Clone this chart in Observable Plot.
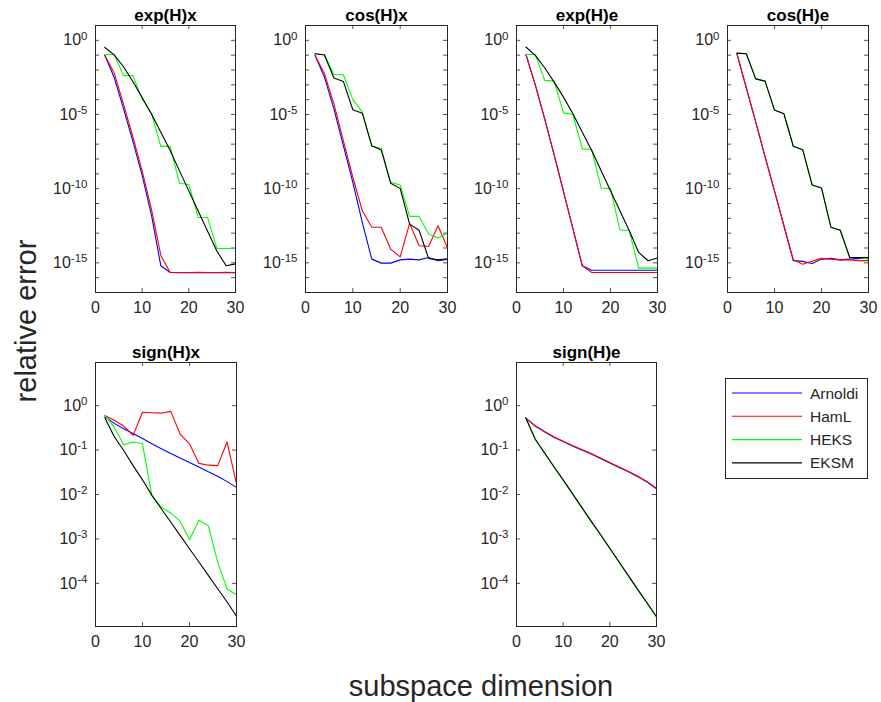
<!DOCTYPE html>
<html><head><meta charset="utf-8">
<script src="https://cdn.jsdelivr.net/npm/d3@7"></script>
<script src="https://cdn.jsdelivr.net/npm/@observablehq/plot@0.6"></script>
<style>
body{margin:0;background:#fff;}
#fig{position:relative;width:881px;height:702px;font-family:"Liberation Sans",Arial,Helvetica,sans-serif;color:#262626;overflow:hidden;background:#fff}
#fig svg{position:absolute}
.lab{position:absolute;white-space:nowrap;font-size:29px;color:#262626;line-height:1}
</style></head><body><div id="fig"></div>
<script>
// ---- data (values are log10 of the relative error) ----
const dims = [2,4,6,8,10,12,14,16,18,20,22,24,26,28,30];
const methods = ["Arnoldi","HamL","HEKS","EKSM"];
const methodColors = ["#0000ff","#ff0000","#00ff00","#000000"];

const expHx_Arnoldi = [-1.0,-2.5,-4.6,-6.8,-9.1,-11.8,-15.2,-15.65,-15.66,-15.66,-15.65,-15.66,-15.66,-15.65,-15.66];
const expHx_HamL    = [-1.0,-2.2,-4.3,-6.5,-8.8,-11.4,-14.5,-15.65,-15.65,-15.65,-15.64,-15.65,-15.65,-15.63,-15.65];
const expHx_HEKS    = [-0.95,-0.95,-2.38,-2.38,-3.95,-4.95,-7.15,-7.15,-9.64,-9.72,-11.94,-11.94,-14.03,-14.03,-14.03];
const expHx_EKSM    = [-0.48,-0.98,-1.78,-2.78,-3.85,-4.97,-6.2,-7.43,-8.8,-10.15,-11.5,-12.85,-14.2,-15.2,-15.07];

const cosHx_Arnoldi = [-1.01,-2.48,-4.62,-7.1,-9.57,-12.27,-14.75,-15.02,-15.02,-14.8,-14.75,-14.8,-14.64,-14.86,-14.77];
const cosHx_HamL    = [-1.01,-2.25,-4.28,-6.76,-9.23,-11.49,-12.6,-12.6,-14.08,-14.6,-12.34,-13.85,-13.9,-12.5,-14.0];
const cosHx_HEKS    = [-0.9,-0.95,-2.32,-2.32,-4.0,-4.84,-7.14,-7.27,-9.57,-9.75,-11.87,-11.87,-13.06,-13.33,-13.0];
const cosHx_EKSM    = [-0.9,-0.99,-2.54,-2.77,-4.68,-4.91,-7.1,-7.39,-9.64,-9.98,-12.39,-12.8,-14.7,-14.8,-14.73];

const expHe_Arnoldi = [-0.95,-3.0,-5.3,-7.7,-10.2,-12.7,-15.2,-15.5,-15.5,-15.5,-15.5,-15.5,-15.5,-15.5,-15.5];
const expHe_HamL    = [-0.95,-3.0,-5.3,-7.7,-10.2,-12.7,-15.2,-15.65,-15.65,-15.65,-15.65,-15.65,-15.65,-15.65,-15.65];
const expHe_HEKS    = [-0.95,-0.95,-2.7,-2.75,-4.89,-5.0,-7.32,-7.36,-9.95,-10.0,-12.77,-12.84,-15.36,-15.36,-15.36];
const expHe_EKSM    = [-0.45,-1.01,-1.85,-2.82,-3.83,-4.95,-6.19,-7.43,-8.78,-10.14,-11.49,-12.84,-14.3,-14.86,-14.68];

const cosHe_Arnoldi = [-0.9,-3.2,-5.5,-7.85,-10.15,-12.5,-14.85,-14.9,-15.05,-14.75,-14.7,-14.8,-14.75,-14.7,-14.7];
const cosHe_HamL    = [-0.9,-3.2,-5.5,-7.85,-10.15,-12.5,-14.8,-15.1,-14.9,-14.7,-14.75,-14.8,-14.8,-14.85,-14.85];
const cosHe_HEKS    = [-0.86,-0.9,-2.6,-2.75,-4.7,-4.95,-7.14,-7.37,-9.75,-9.95,-12.6,-12.8,-14.64,-14.64,-14.75];
const cosHe_EKSM    = [-0.86,-0.9,-2.6,-2.75,-4.7,-4.95,-7.14,-7.37,-9.75,-9.95,-12.6,-12.8,-14.64,-14.64,-14.64];

const signHx_Arnoldi = [-0.25,-0.4,-0.52,-0.63,-0.74,-0.86,-0.97,-1.08,-1.18,-1.28,-1.38,-1.49,-1.59,-1.71,-1.84];
const signHx_HamL    = [-0.22,-0.33,-0.46,-0.67,-0.15,-0.16,-0.17,-0.13,-0.64,-0.86,-1.3,-1.34,-1.35,-0.82,-1.76];
const signHx_HEKS    = [-0.22,-0.49,-0.88,-0.82,-0.86,-2.03,-2.28,-2.42,-2.6,-3.02,-2.58,-2.7,-3.52,-4.13,-4.25];
const signHx_EKSM    = [-0.28,-0.7,-1.01,-1.35,-1.67,-2.02,-2.32,-2.62,-2.92,-3.22,-3.52,-3.82,-4.12,-4.42,-4.74];

const signHe_Arnoldi = [-0.28,-0.46,-0.59,-0.71,-0.81,-0.91,-1.0,-1.09,-1.19,-1.29,-1.39,-1.49,-1.6,-1.72,-1.87];
const signHe_HamL    = [-0.28,-0.45,-0.58,-0.7,-0.8,-0.9,-0.99,-1.08,-1.18,-1.28,-1.38,-1.48,-1.59,-1.71,-1.86];
const signHe_HEKS    = [-0.28,-0.76,-1.07,-1.38,-1.68,-1.99,-2.3,-2.61,-2.91,-3.22,-3.53,-3.84,-4.15,-4.45,-4.76];
const signHe_EKSM    = [-0.28,-0.75,-1.06,-1.37,-1.67,-1.98,-2.29,-2.6,-2.9,-3.21,-3.52,-3.83,-4.14,-4.44,-4.75];

// ---- tick labels ----
const xTickLabels = [0,10,20,30];
const xInnerTicks = [10,20];
const topYLabels = [1e0,1e-5,1e-10,1e-15];
const topYTicks = [1e0,1e-1,1e-2,1e-3,1e-4,1e-5,1e-6,1e-7,1e-8,1e-9,1e-10,1e-11,1e-12,1e-13,1e-14,1e-15,1e-16];
const botYLabels = [1e0,1e-1,1e-2,1e-3,1e-4];
const botYTicks = [1e0,1e-1,1e-2,1e-3,1e-4];
const titles = ["exp(H)x","cos(H)x","exp(H)e","cos(H)e","sign(H)x","sign(H)e"];
const xLabel = "subspace dimension";
const yLabel = "relative error";

const FONT = '"Liberation Sans", Arial, Helvetica, sans-serif';
const AX = "#262626";
const fig = document.getElementById("fig");

function panel({title, series, left, top, frameW, frameH, yDomain, yTicks, yLabels}) {
  const mL = 70, mR = 12, mT = 30, mB = 34;
  const rows = [];
  methods.forEach((m, i) => series[i].forEach((lv, j) => rows.push({dim: dims[j], err: Math.pow(10, lv), method: m})));
  const svg = Plot.plot({
    width: mL + frameW + mR, height: mT + frameH + mB,
    marginLeft: mL, marginRight: mR, marginTop: mT, marginBottom: mB,
    style: {fontFamily: FONT, fontSize: "16px", color: AX, background: "transparent", overflow: "visible"},
    x: {domain: [0, 30]},
    y: {type: "log", domain: yDomain},
    color: {domain: methods, range: methodColors},
    marks: [
      Plot.tickY(yTicks, {y: d => d, insetRight: frameW - 4, stroke: AX, strokeWidth: 0.8}),
      Plot.tickY(yTicks, {y: d => d, insetLeft: frameW - 4, stroke: AX, strokeWidth: 0.8}),
      Plot.tickX(xInnerTicks, {x: d => d, insetBottom: frameH - 4, stroke: AX, strokeWidth: 0.8}),
      Plot.tickX(xInnerTicks, {x: d => d, insetTop: frameH - 4, stroke: AX, strokeWidth: 0.8}),
      Plot.axisY({ticks: yLabels, tickSize: 0, tickPadding: 8, label: null, fill: AX,
        tickFormat: d => "10^" + Math.round(Math.log10(d))}),
      Plot.axisX({ticks: xTickLabels, tickSize: 0, tickPadding: 9, label: null, fill: AX, tickFormat: d => String(d)}),
      Plot.line(rows, {x: "dim", y: "err", z: "method", stroke: "method", strokeWidth: 1.1}),
      Plot.frame({stroke: AX, strokeWidth: 1}),
      Plot.text([title], {frameAnchor: "top", dy: -5, lineAnchor: "bottom", text: d => d,
        fontWeight: "bold", fontSize: 17, fill: "#000"})
    ]
  });
  // superscript exponents on y tick labels
  svg.querySelectorAll('g[aria-label="y-axis tick label"] text').forEach(t => {
    const s = t.textContent;
    const exp = s.split("^")[1];
    t.textContent = "";
    const base = document.createElementNS("http://www.w3.org/2000/svg", "tspan");
    base.textContent = "10";
    const sup = document.createElementNS("http://www.w3.org/2000/svg", "tspan");
    sup.textContent = exp;
    sup.setAttribute("dy", "-0.5em");
    sup.setAttribute("font-size", "0.72em");
    t.appendChild(base); t.appendChild(sup);
  });
  svg.style.left = (left - mL) + "px";
  svg.style.top = (top - mT) + "px";
  fig.appendChild(svg);
}

const topDomain = [1e-17, 1e1];
const botDomain = [Math.pow(10, -4.97), Math.pow(10, 0.97)];
panel({title: titles[0], series: [expHx_Arnoldi, expHx_HamL, expHx_HEKS, expHx_EKSM], left: 95, top: 25, frameW: 140, frameH: 267, yDomain: topDomain, yTicks: topYTicks, yLabels: topYLabels});
panel({title: titles[1], series: [cosHx_Arnoldi, cosHx_HamL, cosHx_HEKS, cosHx_EKSM], left: 305, top: 25, frameW: 142, frameH: 267, yDomain: topDomain, yTicks: topYTicks, yLabels: topYLabels});
panel({title: titles[2], series: [expHe_Arnoldi, expHe_HamL, expHe_HEKS, expHe_EKSM], left: 516, top: 25, frameW: 141, frameH: 267, yDomain: topDomain, yTicks: topYTicks, yLabels: topYLabels});
panel({title: titles[3], series: [cosHe_Arnoldi, cosHe_HamL, cosHe_HEKS, cosHe_EKSM], left: 727, top: 25, frameW: 141, frameH: 267, yDomain: topDomain, yTicks: topYTicks, yLabels: topYLabels});
panel({title: titles[4], series: [signHx_Arnoldi, signHx_HamL, signHx_HEKS, signHx_EKSM], left: 95, top: 362, frameW: 141, frameH: 264, yDomain: botDomain, yTicks: botYTicks, yLabels: botYLabels});
panel({title: titles[5], series: [signHe_Arnoldi, signHe_HamL, signHe_HEKS, signHe_EKSM], left: 516, top: 362, frameW: 140, frameH: 264, yDomain: botDomain, yTicks: botYTicks, yLabels: botYLabels});

// legend
const leg = d3.create("svg").attr("width", 143).attr("height", 101)
  .style("left", "725px").style("top", "378px");
leg.append("rect").attr("x", 0.5).attr("y", 0.5).attr("width", 142).attr("height", 100)
  .attr("fill", "#fff").attr("stroke", AX).attr("stroke-width", 1);
methods.forEach((m, i) => {
  const y = 15 + i * 23.3;
  leg.append("line").attr("x1", 7).attr("x2", 77).attr("y1", y).attr("y2", y)
    .attr("stroke", methodColors[i]).attr("stroke-width", 1.1);
  leg.append("text").attr("x", 85).attr("y", y).attr("dy", "0.36em")
    .attr("font-family", FONT).attr("font-size", 15.5).attr("fill", AX).text(m);
});
fig.appendChild(leg.node());

// axis titles
const xl = document.createElement("div");
xl.className = "lab"; xl.textContent = xLabel;
xl.style.left = "481px"; xl.style.top = "686px"; xl.style.transform = "translate(-50%,-50%)";
fig.appendChild(xl);
const yl = document.createElement("div");
yl.className = "lab"; yl.textContent = yLabel;
yl.style.left = "26px"; yl.style.top = "321px"; yl.style.transform = "translate(-50%,-50%) rotate(-90deg)";
fig.appendChild(yl);
</script></body></html>
